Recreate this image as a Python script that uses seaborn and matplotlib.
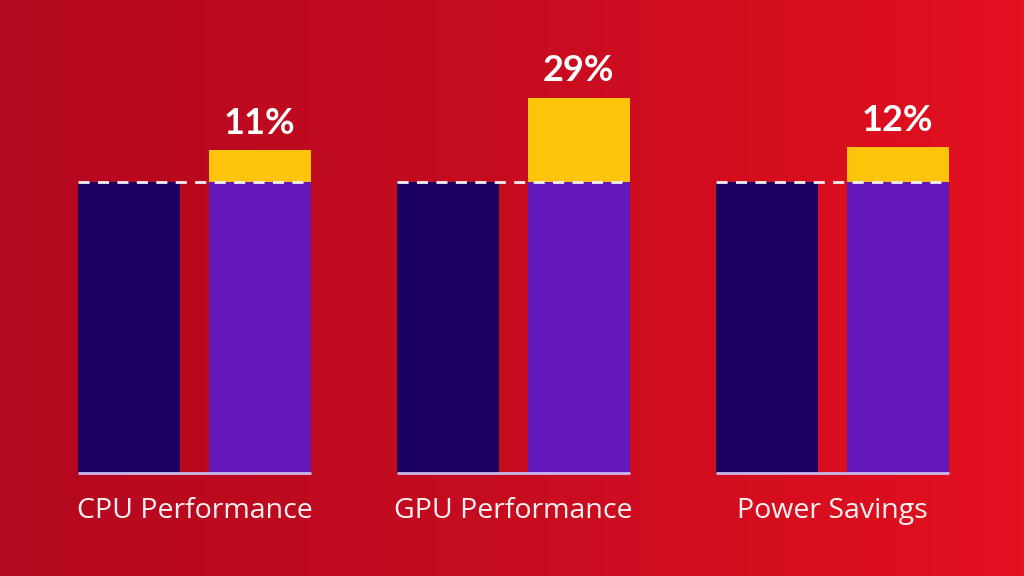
import numpy as np
import pandas as pd
import matplotlib.pyplot as plt
import seaborn as sns
from matplotlib.colors import LinearSegmentedColormap

# Data
categories = ["CPU Performance", "GPU Performance", "Power Savings"]
baseline = [100, 100, 100]
gains = [11, 29, 12]
series = ["Previous", "New"]

df = pd.DataFrame({
    "Category": categories * 2,
    "Series": [series[0]] * 3 + [series[1]] * 3,
    "Value": baseline * 2,
})
df_total = pd.DataFrame({
    "Category": categories * 2,
    "Series": [series[0]] * 3 + [series[1]] * 3,
    "Value": [0, 0, 0] + [b + g for b, g in zip(baseline, gains)],
})

navy = "#1b0062"
purple = "#6518b8"
yellow = "#fdc40c"
bar_width = 0.818
bar_gap = 0.215
xlim = (-0.6097, 2.6003)
ylim = (-35.4, 162.5)

fig = plt.figure(figsize=(10.24, 5.76), dpi=100)
ax = fig.add_axes([0, 0, 1, 1])

# background gradient
grad = np.linspace(0, 1, 256).reshape(1, -1)
cmap = LinearSegmentedColormap.from_list("bg", ["#b3081f", "#c70c20", "#e3101f"])
ax.imshow(grad, cmap=cmap, aspect="auto", extent=(*xlim, *ylim), zorder=0)

# yellow = total height, then baseline bars drawn over it
sns.barplot(data=df_total, x="Category", y="Value", hue="Series", order=categories,
            hue_order=series, palette=[navy, yellow], width=bar_width, gap=bar_gap,
            legend=False, ax=ax, zorder=2, saturation=1)
sns.barplot(data=df, x="Category", y="Value", hue="Series", order=categories,
            hue_order=series, palette=[navy, purple], width=bar_width, gap=bar_gap,
            legend=False, ax=ax, zorder=3, saturation=1)

slot = bar_width / 2
for i, (cat, g) in enumerate(zip(categories, gains)):
    left = i - bar_width / 2 + slot * bar_gap / 2
    right = i + bar_width / 2 - slot * bar_gap / 2
    ax.hlines(100, left, right, colors="#f4eef0", linestyles=(0, (4, 3)), linewidth=2, zorder=4)
    ax.hlines(0, left, right, colors="#c9b9ea", linewidth=2, zorder=4)
    ax.text(i, -13.0, cat, ha="center", va="center", color="#fbf3f3",
            fontsize=20.5, family="Open Sans", zorder=5)
    ax.text(i + slot / 2, 100 + g + 3.5, f"{g}%", ha="center", va="bottom", color="white",
            fontsize=26, fontweight="bold", family="Lato", zorder=5)

ax.set_xlim(*xlim)
ax.set_ylim(*ylim)
ax.axis("off")

fig.savefig("out.png", dpi=100)
